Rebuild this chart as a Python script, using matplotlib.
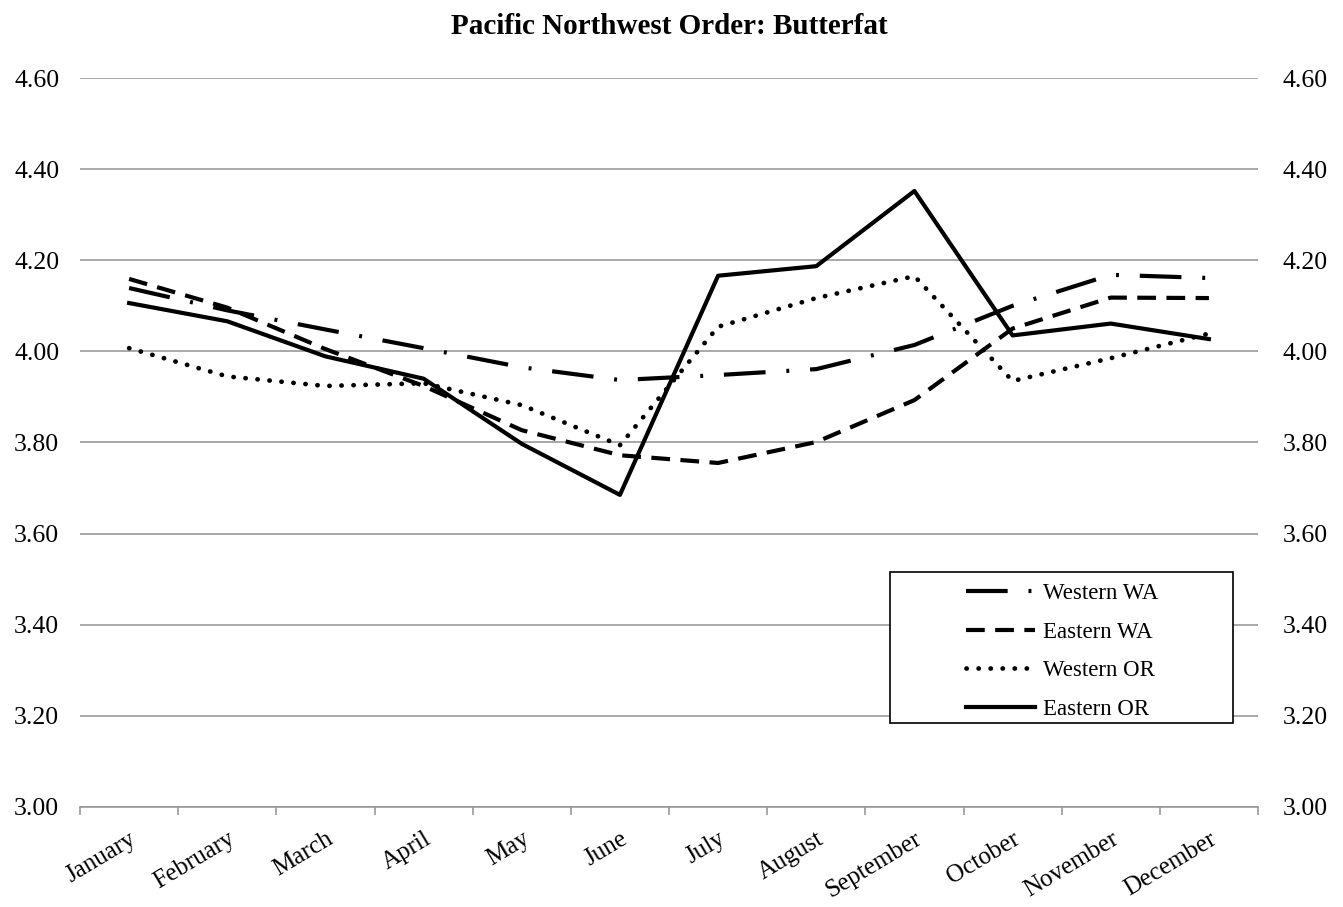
import matplotlib.pyplot as plt
from matplotlib.patches import Rectangle

months = ["January", "February", "March", "April", "May", "June",
          "July", "August", "September", "October", "November", "December"]

western_wa = [4.139, 4.090, 4.048, 4.007, 3.965, 3.937, 3.948, 3.961, 4.014, 4.100, 4.168, 4.161]
eastern_wa = [4.159, 4.096, 4.005, 3.924, 3.827, 3.772, 3.755, 3.801, 3.893, 4.050, 4.118, 4.117]
western_or = [4.007, 3.945, 3.924, 3.930, 3.882, 3.794, 4.054, 4.117, 4.165, 3.935, 3.985, 4.039]
eastern_or = [4.106, 4.066, 3.989, 3.940, 3.797, 3.685, 4.166, 4.187, 4.352, 4.035, 4.061, 4.027]

yticks = [3.0, 3.2, 3.4, 3.6, 3.8, 4.0, 4.2, 4.4, 4.6]

plt.rcParams['font.family'] = ['Liberation Serif', 'DejaVu Serif']

fig = plt.figure(figsize=(13.43, 9.07), dpi=100)
ax = fig.add_axes([0.0596, 0.1103, 0.8771, 0.8037])

x = list(range(len(months)))
lw = 3.0
l1, = ax.plot(x, western_wa, color="black", lw=lw, label="Western WA")
l1.set_dashes((10, 5, 0.7, 5))
l2, = ax.plot(x, eastern_wa, color="black", lw=lw, label="Eastern WA")
l2.set_dashes((4.5, 2.5))
l3, = ax.plot(x, western_or, color="black", lw=lw + 0.4, label="Western OR",
              dash_capstyle="round")
l3.set_dashes((0.05, 2.5))
l4, = ax.plot(x, eastern_or, color="black", lw=lw, label="Eastern OR")

ax.set_xlim(-0.5, 11.5)
ax.set_ylim(3.0, 4.6)
ax.set_yticks(yticks)
ax.set_yticklabels([f"{v:.2f}" for v in yticks], fontsize=18.5)
ax.yaxis.grid(True, color="#999999", lw=1.2)
ax.set_axisbelow(True)

ax.set_xticks(x)
ax.set_xticklabels(months, rotation=31, ha="right", rotation_mode="anchor", fontsize=18)
ax.set_xticks([i - 0.5 for i in range(13)], minor=True)
ax.tick_params(axis="x", which="major", length=0, pad=15)
ax.tick_params(axis="x", which="minor", length=6, color="#999999", width=1.2)
ax.tick_params(axis="y", length=0, pad=15)

for s in ["top", "left", "right"]:
    ax.spines[s].set_visible(False)
ax.spines["bottom"].set_color("#999999")
ax.spines["bottom"].set_linewidth(1.2)

ax2 = ax.twinx()
ax2.set_ylim(3.0, 4.6)
ax2.set_yticks(yticks)
ax2.set_yticklabels([f"{v:.2f}" for v in yticks], fontsize=18.5)
ax2.tick_params(axis="y", length=0, pad=18)
for s in ["top", "left", "right", "bottom"]:
    ax2.spines[s].set_visible(False)

ax.set_title("Pacific Northwest Order: Butterfat", fontsize=21, fontweight="bold", pad=32)

# legend frame drawn separately, legend entries placed inside it
box = Rectangle((0.688, 0.115), 0.291, 0.207, transform=ax.transAxes,
                facecolor="white", edgecolor="black", lw=1.2, zorder=5)
ax2.add_patch(box)
leg = ax2.legend(handles=[l1, l2, l3, l4], loc="upper left",
                 bbox_to_anchor=(0.752, 0.307), fontsize=16.5, frameon=False,
                 handlelength=3.0, labelspacing=0.76, borderpad=0,
                 handletextpad=0.35, borderaxespad=0)
leg.set_zorder(6)

fig.savefig("out.png", dpi=100)
